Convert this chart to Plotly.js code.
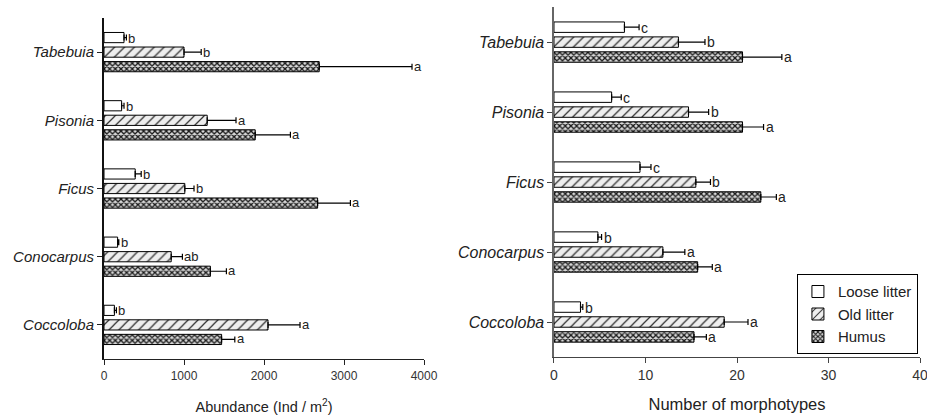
<!DOCTYPE html>
<html><head><meta charset="utf-8">
<script src="https://cdn.plot.ly/plotly-3.0.1.min.js"></script>
<style>body{margin:0;background:#fff}#c{width:927px;height:419px}</style>
</head><body><div id="c"></div>
<script>
// categories bottom to top
const categories = ["Coccoloba", "Conocarpus", "Ficus", "Pisonia", "Tabebuia"];
const seriesNames = ["Loose litter", "Old litter", "Humus"];

// Abundance (Ind / m2)
const abLoose = [130, 170, 390, 220, 250];
const abLooseErr = [25, 15, 75, 30, 30];
const abOld = [2050, 840, 1010, 1290, 1000];
const abOldErr = [400, 140, 115, 360, 215];
const abHumus = [1470, 1330, 2670, 1890, 2690];
const abHumusErr = [165, 200, 410, 440, 1160];
const abLooseLet = ["b", "b", "b", "b", "b"];
const abOldLet = ["a", "ab", "b", "a", "b"];
const abHumusLet = ["a", "a", "a", "a", "a"];

// Number of morphotypes
const mLoose = [2.9, 4.8, 9.4, 6.3, 7.7];
const mLooseErr = [0.25, 0.4, 1.2, 1.05, 1.6];
const mOld = [18.6, 11.9, 15.5, 14.7, 13.6];
const mOldErr = [2.6, 2.4, 1.6, 2.2, 2.9];
const mHumus = [15.3, 15.7, 22.6, 20.6, 20.6];
const mHumusErr = [1.35, 1.6, 1.7, 2.3, 4.3];
const mLooseLet = ["b", "b", "c", "c", "c"];
const mOldLet = ["a", "a", "b", "b", "b"];
const mHumusLet = ["a", "a", "a", "a", "a"];

const styles = {
  "Loose litter": {color: "#ffffff"},
  "Old litter": {color: "#eeeeee", pattern: {shape: "/", fgcolor: "#333", bgcolor: "#eeeeee", size: 7, solidity: 0.18}},
  "Humus": {color: "#bbbbbb", pattern: {shape: "x", fgcolor: "#1a1a1a", bgcolor: "#d8d8d8", size: 4, solidity: 0.55}}
};

function barTrace(name, vals, errs, xa, ya, showlegend) {
  const st = styles[name];
  const marker = {color: st.color, line: {color: "#000", width: 1}};
  if (st.pattern) marker.pattern = st.pattern;
  return {
    type: "bar", orientation: "h", name: name, x: vals, y: categories,
    xaxis: xa, yaxis: ya, marker: marker, showlegend: showlegend, legendgroup: name,
    error_x: {type: "data", array: errs, arrayminus: errs.map(() => 0), symmetric: false,
              color: "#000", thickness: 1.2, width: 3}
  };
}

const traces = [
  barTrace("Humus", abHumus, abHumusErr, "x", "y", false),
  barTrace("Old litter", abOld, abOldErr, "x", "y", false),
  barTrace("Loose litter", abLoose, abLooseErr, "x", "y", false),
  barTrace("Humus", mHumus, mHumusErr, "x2", "y2", true),
  barTrace("Old litter", mOld, mOldErr, "x2", "y2", true),
  barTrace("Loose litter", mLoose, mLooseErr, "x2", "y2", true)
];

const annotations = [];
function addLetters(vals, errs, lets, xr, yr, shift, size) {
  for (let i = 0; i < categories.length; i++) {
    annotations.push({x: vals[i] + errs[i], y: categories[i], xref: xr, yref: yr,
      text: lets[i], showarrow: false, xanchor: "left", xshift: 0, yshift: shift,
      font: {family: "Liberation Sans, Arial", size: size, color: "#222"}});
  }
}
addLetters(abLoose, abLooseErr, abLooseLet, "x", "y", 14, 13);
addLetters(abOld, abOldErr, abOldLet, "x", "y", 0, 13);
addLetters(abHumus, abHumusErr, abHumusLet, "x", "y", -14, 13);
addLetters(mLoose, mLooseErr, mLooseLet, "x2", "y2", 14.5, 14);
addLetters(mOld, mOldErr, mOldLet, "x2", "y2", 0, 14);
addLetters(mHumus, mHumusErr, mHumusLet, "x2", "y2", -14.5, 14);

const font = {family: "Liberation Sans, Arial", color: "#222"};
const layout = {
  width: 927, height: 419, margin: {l: 0, r: 0, t: 0, b: 0},
  paper_bgcolor: "#fff", plot_bgcolor: "#fff", font: font,
  barmode: "group", bargap: 0.36, bargroupgap: 0.3,
  showlegend: true,
  legend: {x: 0.99, y: 0.155, xanchor: "right", yanchor: "bottom", traceorder: "reversed",
           bordercolor: "#000", borderwidth: 1.2, bgcolor: "#fff",
           font: {family: "Liberation Sans, Arial", size: 15, color: "#222"},
           itemwidth: 30, tracegroupgap: 0},
  xaxis: {domain: [0.1122, 0.4574], range: [0, 4000], tickvals: [0, 1000, 2000, 3000, 4000],
          showgrid: false, zeroline: false, showline: true, linecolor: "#222", linewidth: 1.2,
          ticks: "outside", ticklen: 5, tickcolor: "#222", anchor: "y", ticklabeloverflow: "allow",
          tickfont: {size: 12, color: "#333"},
          title: {text: "Abundance (Ind / m<sup>2</sup>)", font: {size: 14.5, color: "#222"}, standoff: 20}},
  yaxis: {domain: [0.1432, 0.957], range: [-0.5, 4.5], type: "category",
          showgrid: false, zeroline: false, showline: true, linecolor: "#111", linewidth: 2,
          ticks: "outside", ticklen: 5, tickcolor: "#222", anchor: "x",
          tickfont: {size: 15, style: "italic", color: "#222"}},
  xaxis2: {domain: [0.5976, 0.9925], range: [0, 40], tickvals: [0, 10, 20, 30, 40],
          showgrid: false, zeroline: false, showline: true, linecolor: "#444", linewidth: 1.5,
          ticks: "outside", ticklen: 5, tickcolor: "#444", anchor: "y2", ticklabeloverflow: "allow",
          tickfont: {size: 14, color: "#333"},
          title: {text: "Number of morphotypes", font: {size: 16.5, color: "#222"}, standoff: 16}},
  yaxis2: {domain: [0.148, 0.983], range: [-0.5, 4.5], type: "category",
          showgrid: false, zeroline: false, showline: true, linecolor: "#666", linewidth: 1.5,
          ticks: "outside", ticklen: 5, tickcolor: "#444", anchor: "x2",
          tickfont: {size: 16, style: "italic", color: "#222"}},
  annotations: annotations
};

Plotly.newPlot("c", traces, layout, {displayModeBar: false, staticPlot: true});
</script>
</body></html>
